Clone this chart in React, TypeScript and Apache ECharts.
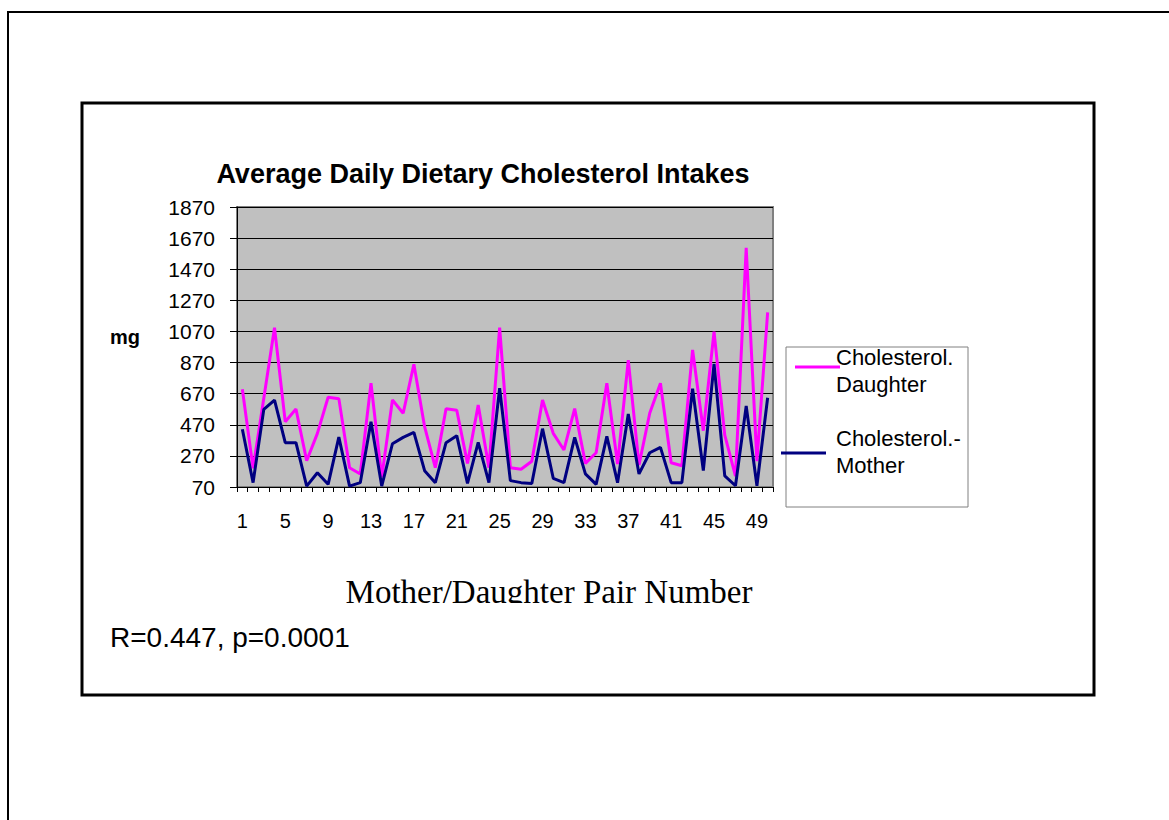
import React, { useEffect, useRef } from "react";
import * as echarts from "echarts";

const pairNumbers = [
  "1","2","3","4","5","6","7","8","9","10",
  "11","12","13","14","15","16","17","18","19","20",
  "21","22","23","24","25","26","27","28","29","30",
  "31","32","33","34","35","36","37","38","39","40",
  "41","42","43","44","45","46","47","48","49","50",
];

const daughterValues = [
  698, 190, 640, 1094, 490, 571, 239, 415, 647, 638,
  194, 154, 737, 132, 629, 544, 859, 458, 194, 573,
  563, 222, 597, 194, 1094, 194, 184, 236, 629, 415,
  308, 574, 222, 290, 737, 218, 886, 211, 544, 737,
  226, 207, 951, 432, 1068, 404, 140, 1608, 236, 1193,
];

const motherValues = [
  441, 98, 569, 629, 355, 355, 76, 162, 87, 391,
  76, 98, 490, 76, 348, 389, 421, 175, 98, 355,
  400, 93, 357, 98, 705, 111, 98, 93, 445, 126,
  98, 389, 154, 87, 395, 98, 539, 154, 290, 325,
  98, 98, 702, 175, 861, 141, 78, 591, 78, 644,
];

const yMin = 70;
const yMax = 1870;
const yStep = 200;

const SANS = "'Liberation Sans', Arial, sans-serif";
const SERIF = "'Liberation Serif', 'Times New Roman', serif";

export default function App() {
  const ref = useRef<HTMLDivElement>(null);

  useEffect(() => {
    if (!ref.current) return;
    const chart = echarts.init(ref.current, undefined, { renderer: "svg" });
    chart.setOption({
      animation: false,
      backgroundColor: "#ffffff",
      grid: {
        left: 237,
        top: 207,
        width: 536,
        height: 280,
        show: true,
        backgroundColor: "#C0C0C0",
        borderColor: "#808080",
        borderWidth: 2,
      },
      xAxis: {
        type: "category",
        data: pairNumbers,
        boundaryGap: true,
        axisLine: { show: true, lineStyle: { color: "#000", width: 1 } },
        axisTick: { show: true, interval: 0, length: 5, lineStyle: { color: "#000" } },
        axisLabel: {
          interval: 3,
          fontSize: 20,
          fontFamily: SANS,
          color: "#000",
          margin: 24,
        },
        splitLine: { show: false },
      },
      yAxis: {
        type: "value",
        min: yMin,
        max: yMax,
        interval: yStep,
        axisLine: { show: true, lineStyle: { color: "#000", width: 1 } },
        axisTick: { show: true, length: 7, lineStyle: { color: "#000" } },
        axisLabel: {
          fontSize: 21,
          fontFamily: SANS,
          color: "#000",
          margin: 22,
          formatter: (v: number) => String(v),
        },
        splitLine: { show: true, lineStyle: { color: "#000", width: 1 } },
      },
      series: [
        {
          name: "Cholesterol. Daughter",
          type: "line",
          data: daughterValues,
          symbol: "none",
          lineStyle: { color: "#FF00FF", width: 3 },
          itemStyle: { color: "#FF00FF" },
        },
        {
          name: "Cholesterol.- Mother",
          type: "line",
          data: motherValues,
          symbol: "none",
          lineStyle: { color: "#000080", width: 3 },
          itemStyle: { color: "#000080" },
        },
      ],
      graphic: [
        {
          type: "rect",
          shape: { x: 8, y: 12, width: 1300, height: 1000 },
          style: { fill: "none", stroke: "#000", lineWidth: 2 },
          silent: true,
          z: -1,
        },
        {
          type: "rect",
          shape: { x: 82, y: 103, width: 1012, height: 592 },
          style: { fill: "none", stroke: "#000", lineWidth: 3 },
          silent: true,
        },
        {
          type: "text",
          style: {
            text: "Average Daily Dietary Cholesterol Intakes",
            x: 483,
            y: 174,
            fill: "#000",
            font: `bold 27px ${SANS}`,
            textAlign: "center",
            textVerticalAlign: "middle",
            align: "center",
            verticalAlign: "middle",
          },
        },
        {
          type: "text",
          style: {
            text: "mg",
            x: 110,
            y: 337,
            fill: "#000",
            font: `bold 20px ${SANS}`,
            textAlign: "left",
            textVerticalAlign: "middle",
            align: "left",
            verticalAlign: "middle",
          },
        },
        {
          type: "text",
          z: 5,
          style: {
            text: "Mother/Daughter Pair Number",
            x: 549,
            y: 592,
            fill: "#000",
            font: `33px ${SERIF}`,
            textAlign: "center",
            textVerticalAlign: "middle",
            align: "center",
            verticalAlign: "middle",
          },
        },
        {
          type: "rect",
          z: 6,
          shape: { x: 320, y: 603, width: 460, height: 14 },
          style: { fill: "#fff", stroke: "none" },
          silent: true,
        },
        {
          type: "text",
          style: {
            text: "R=0.447, p=0.0001",
            x: 110,
            y: 637,
            fill: "#000",
            font: `28px ${SANS}`,
            textAlign: "left",
            textVerticalAlign: "middle",
            align: "left",
            verticalAlign: "middle",
          },
        },
        {
          type: "rect",
          shape: { x: 786, y: 347, width: 182, height: 160 },
          style: { fill: "#fff", stroke: "#808080", lineWidth: 1 },
        },
        {
          type: "line",
          shape: { x1: 795, y1: 367, x2: 840, y2: 367 },
          style: { stroke: "#FF00FF", lineWidth: 3 },
          z: 10,
        },
        {
          type: "line",
          shape: { x1: 781, y1: 453, x2: 826, y2: 453 },
          style: { stroke: "#000080", lineWidth: 3 },
          z: 10,
        },
        {
          type: "text",
          z: 11,
          style: {
            text: "Cholesterol.\nDaughter",
            x: 836,
            y: 371,
            fill: "#000",
            font: `22px ${SANS}`,
            lineHeight: 27,
            textAlign: "left",
            textVerticalAlign: "middle",
            align: "left",
            verticalAlign: "middle",
          },
        },
        {
          type: "text",
          z: 11,
          style: {
            text: "Cholesterol.-\nMother",
            x: 836,
            y: 452,
            fill: "#000",
            font: `22px ${SANS}`,
            lineHeight: 27,
            textAlign: "left",
            textVerticalAlign: "middle",
            align: "left",
            verticalAlign: "middle",
          },
        },
      ],
    });
    return () => chart.dispose();
  }, []);

  return (
    <div
      ref={ref}
      style={{ position: "absolute", left: 0, top: 0, width: 1169, height: 820 }}
    />
  );
}
